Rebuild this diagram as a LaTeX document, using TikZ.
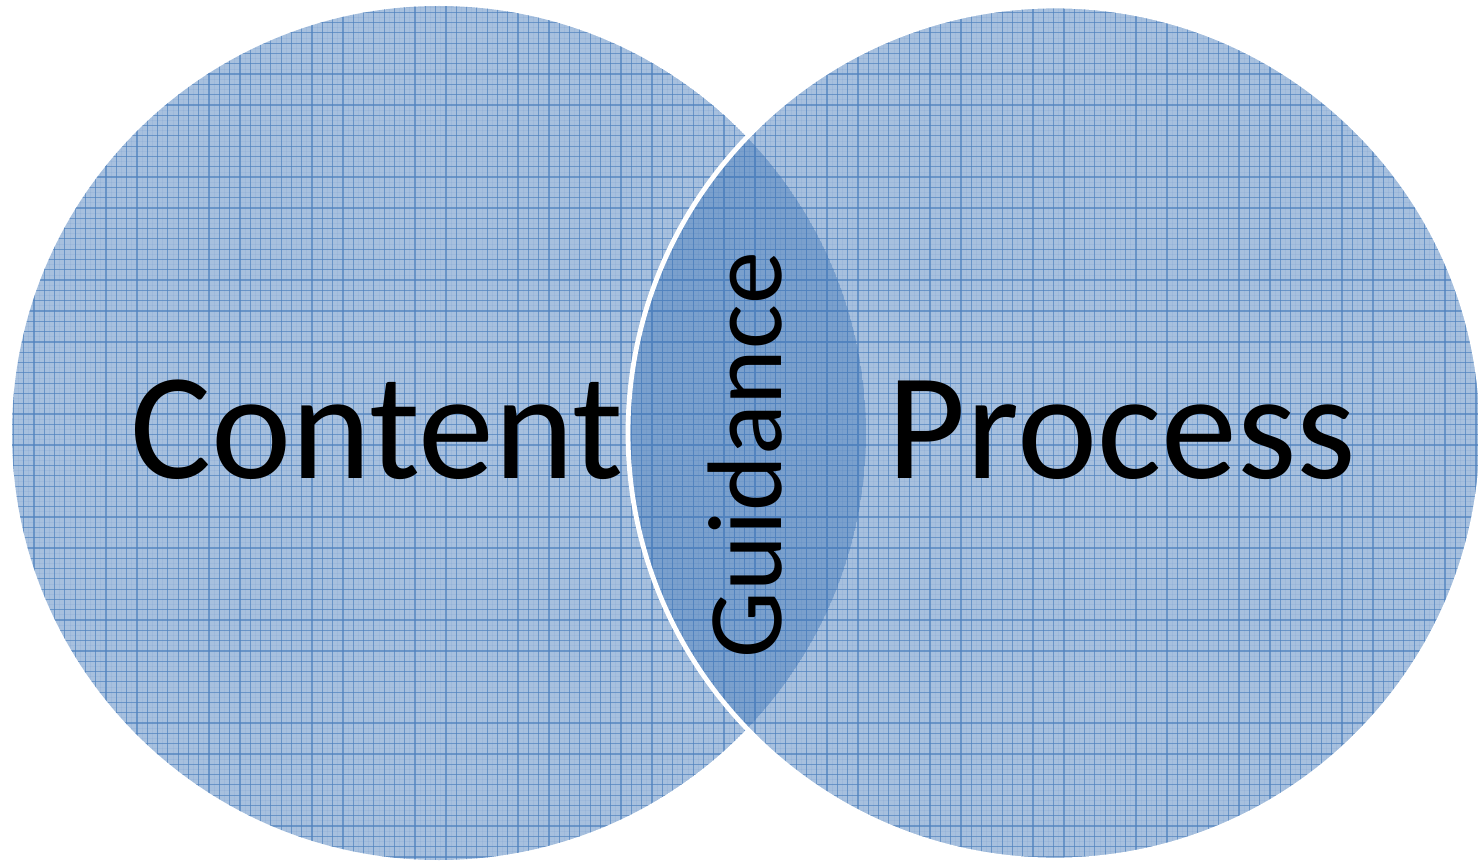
\documentclass[tikz,border=0pt]{standalone}
\usepackage{fontspec}
\setmainfont{Carlito}
\definecolor{acc}{HTML}{4F81BD}
\tikzset{
  disc/.style={fill=acc, fill opacity=0.5, draw=none},
  gline/.style={draw=acc, draw opacity=0.7, line width=0.6pt},
  fline/.style={draw=acc, draw opacity=0.1, line width=0.4pt},
  bigword/.style={inner sep=0pt, font=\fontsize{76}{82}\selectfont, text=black},
  midword/.style={inner sep=0pt, font=\fontsize{53}{58}\selectfont, text=black}
}
\newcommand{\gridfill}{%
  \foreach \i in {0,...,144}{\draw[gline] ({\i*10.3+3},0) -- ({\i*10.3+3},861);}
  \foreach \j in {0,...,84}{\draw[gline] (0,{\j*10.3+2}) -- (1478,{\j*10.3+2});}
  \foreach \i in {0,...,144}{\draw[fline] ({\i*10.3+8.15},0) -- ({\i*10.3+8.15},861);}
  \foreach \j in {0,...,84}{\draw[fline] (0,{\j*10.3+7.15}) -- (1478,{\j*10.3+7.15});}
}
\begin{document}
\begin{tikzpicture}[x=0.5pt,y=-0.5pt]
\useasboundingbox (0,0) rectangle (1478,861);
\coordinate (cl) at (439,433);
\coordinate (cr) at (1055,433);
% left circle
\begin{scope}
  \clip (cl) circle[radius=427];
  \fill[disc] (cl) circle[radius=427];
  \gridfill
\end{scope}
% right circle
\begin{scope}
  \clip (cr) circle[radius=427];
  \fill[disc] (cr) circle[radius=427];
  \gridfill
\end{scope}
\draw[white, line width=2.4pt] (cr) circle[radius=427];
% texts
\node[bigword, anchor=base] (content) at (377,478) {Content};
\node[bigword, anchor=base] (process) at (1122,478) {Process};
\node[midword, rotate=90] (guidance) at (745,455) {Guidance};
\end{tikzpicture}
\end{document}
